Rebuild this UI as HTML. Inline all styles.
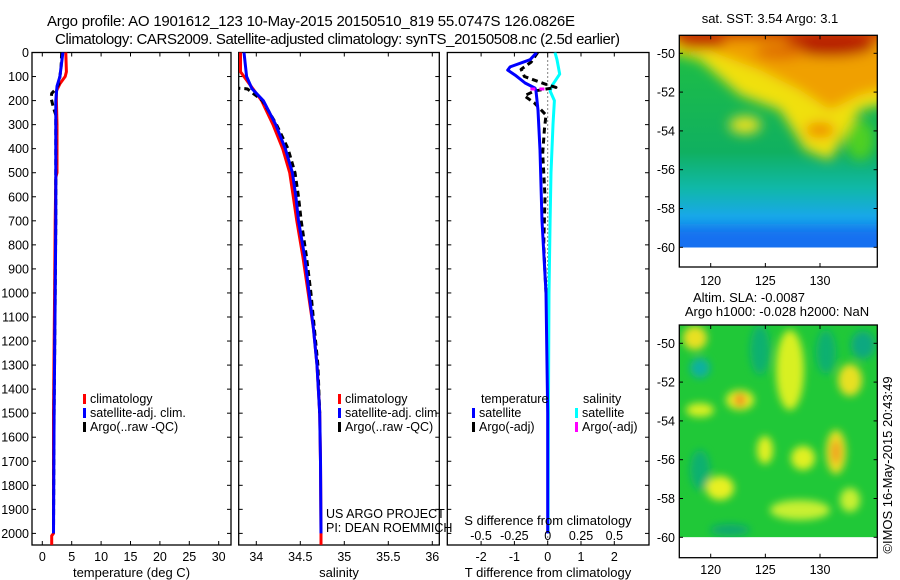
<!DOCTYPE html>
<html><head><meta charset="utf-8"><style>
html,body{margin:0;padding:0;background:#fff}
svg{display:block;font-family:"Liberation Sans",sans-serif}
text{fill:#000}
</style></head><body>
<svg id="fig" width="900" height="580" viewBox="0 0 900 580" xmlns="http://www.w3.org/2000/svg">
<defs>
<filter id="b6" x="-50%" y="-50%" width="200%" height="200%"><feGaussianBlur stdDeviation="6"/></filter>
<filter id="b4" x="-50%" y="-50%" width="200%" height="200%"><feGaussianBlur stdDeviation="4"/></filter>
<clipPath id="cm1"><rect x="679.3" y="35.3" width="198" height="212.2"/></clipPath>
<clipPath id="cm2"><rect x="679.3" y="325" width="198" height="212.3"/></clipPath>
<linearGradient id="sstg" x1="0" y1="0" x2="0" y2="1">
<stop offset="0" stop-color="#20c040"/><stop offset="0.55" stop-color="#10b060"/><stop offset="0.72" stop-color="#10b8a8"/><stop offset="0.85" stop-color="#18a8e8"/><stop offset="1" stop-color="#1080f0"/>
</linearGradient>
</defs>
<text x="47" y="26" font-size="15" textLength="528">Argo profile: AO 1901612_123 10-May-2015 20150510_819 55.0747S 126.0826E</text>
<text x="55" y="44" font-size="15" textLength="565">Climatology: CARS2009. Satellite-adjusted climatology: synTS_20150508.nc (2.5d earlier)</text>
<g id="panels"></g>

<g>
<g clip-path="url(#cm1)">
<rect x="679.3" y="35.3" width="198" height="212.2" fill="url(#sstg)"/>
<g filter="url(#b6)">
<polygon points="660,20 900,20 900,100 860,110 830,160 805,150 780,110 740,95 700,60 660,50" fill="#f0e010"/>
<polygon points="700,20 900,20 900,85 860,95 830,110 800,90 760,70 720,55 700,45" fill="#f0a000"/>
<rect x="660" y="20" width="240" height="20" fill="#d04000"/>
<ellipse cx="700" cy="42" rx="25" ry="8" fill="#c03000"/>
<ellipse cx="830" cy="45" rx="45" ry="12" fill="#b82000"/>
<ellipse cx="780" cy="52" rx="25" ry="8" fill="#e07000"/>
<ellipse cx="820" cy="130" rx="15" ry="8" fill="#f09000"/>
<ellipse cx="745" cy="125" rx="16" ry="9" fill="#e8e020"/>
<ellipse cx="860" cy="140" rx="14" ry="20" fill="#50d020"/>
<rect x="660" y="228" width="240" height="30" fill="#1870f0"/>
</g>
</g>
<rect x="679.3" y="35.3" width="198" height="231.7" fill="none" stroke="#000" stroke-width="1.3"/>
</g>
<text x="770" y="23" font-size="13" text-anchor="middle">sat. SST: 3.54 Argo: 3.1</text>

<g>
<g clip-path="url(#cm2)">
<rect x="679.3" y="325" width="198" height="212.3" fill="#20c838"/>
<g filter="url(#b4)">
<ellipse cx="695" cy="338" rx="12" ry="12" fill="#e8e020"/>
<ellipse cx="700" cy="368" rx="10" ry="10" fill="#10b0a0"/>
<ellipse cx="740" cy="400" rx="14" ry="10" fill="#e8f020"/>
<ellipse cx="740" cy="400" rx="6" ry="7" fill="#f09020"/>
<ellipse cx="700" cy="410" rx="14" ry="7" fill="#d8f020"/>
<ellipse cx="790" cy="370" rx="14" ry="40" fill="#d8f020"/>
<ellipse cx="850" cy="380" rx="12" ry="16" fill="#e8e020"/>
<ellipse cx="863" cy="345" rx="12" ry="14" fill="#10a880"/>
<ellipse cx="826" cy="352" rx="10" ry="22" fill="#10b070"/>
<ellipse cx="760" cy="350" rx="10" ry="25" fill="#10b070"/>
<ellipse cx="836" cy="452" rx="10" ry="22" fill="#e8e020"/>
<ellipse cx="836" cy="452" rx="5" ry="12" fill="#f0a020"/>
<ellipse cx="765" cy="450" rx="8" ry="14" fill="#e0f020"/>
<ellipse cx="803" cy="458" rx="12" ry="12" fill="#e0f020"/>
<ellipse cx="720" cy="488" rx="14" ry="12" fill="#e8f020"/>
<ellipse cx="800" cy="510" rx="30" ry="10" fill="#c8f030"/>
<ellipse cx="700" cy="470" rx="10" ry="20" fill="#10b070"/>
<ellipse cx="850" cy="500" rx="10" ry="12" fill="#c8f030"/>
<ellipse cx="730" cy="530" rx="20" ry="6" fill="#10a870"/>
</g>
</g>
<rect x="679.3" y="325" width="198" height="232.7" fill="none" stroke="#000" stroke-width="1.3"/>
</g>
<text x="749" y="302" font-size="13" text-anchor="middle">Altim. SLA: -0.0087</text>
<text x="777" y="316" font-size="13" text-anchor="middle">Argo h1000: -0.028 h2000: NaN</text>
<text transform="translate(892,465) rotate(-90)" font-size="13" text-anchor="middle">©IMOS 16-May-2015 20:43:49</text>
</svg>
<script>
const depthTicks=[0,100,200,300,400,500,600,700,800,900,1000,1100,1200,1300,1400,1500,1600,1700,1800,1900,2000];
const tempTicks=[0,5,10,15,20,25,30];
const salTicks=[34,34.5,35,35.5,36];
const salTickLabels=["34","34.5","35","35.5","36"];
const tdiffTicks=[-2,-1,0,1,2];
const sdiffTicks=[-0.5,-0.25,0,0.25,0.5];
const sdiffTickLabels=["-0.5","-0.25","0","0.25","0.5"];
const latTicks=[-50,-52,-54,-56,-58,-60];
const lonTicks=[120,125,130];

const tClimDepth=[0,80,100,130,160,200,300,500,520,700,1000,1500,2000,2010,2048];
const tClim=[4.0,4.1,3.9,3.0,2.4,2.4,2.5,2.5,2.3,2.2,2.1,1.9,1.9,1.6,1.6];
const tSatDepth=[0,60,100,140,200,400,700,1000,1500,2000];
const tSat=[3.5,3.2,3.0,2.5,2.3,2.3,2.3,2.2,2.0,1.9];
const tArgoDepth=[0,60,100,130,150,170,190,230,260,400,700,1000,1500,2000];
const tArgo=[3.3,3.2,3.0,2.8,2.4,1.6,1.5,1.9,2.3,2.3,2.3,2.2,2.0,1.9];

const sClimDepth=[0,80,120,150,200,300,400,500,600,700,850,1000,1150,1300,1500,1700,2000,2048];
const sClim=[33.82,33.82,33.9,33.96,34.06,34.19,34.3,34.38,34.42,34.46,34.53,34.59,34.65,34.69,34.72,34.73,34.735,34.735];
const sSatDepth=[0,100,150,200,300,400,500,600,700,850,1000,1150,1300,1500,1700,2000];
const sSat=[33.86,33.89,33.95,34.08,34.22,34.33,34.41,34.45,34.48,34.55,34.6,34.65,34.69,34.72,34.73,34.735];
const sArgoDepth=[148,150,152,200,300,400,500,600,700,850,1000,1150,1300,1500];
const sArgo=[33.75,33.87,33.9,34.07,34.23,34.36,34.44,34.48,34.51,34.57,34.62,34.66,34.7,34.72];

const dTDepth=[0,30,60,73,94,127,148,160,240,406,700,1000,1500,2000];
const dTSat=[-0.33,-0.53,-1.13,-1.2,-0.98,-0.68,-0.38,-0.35,-0.29,-0.23,-0.17,-0.05,0,0];
const dSDepth=[0,30,90,140,160,200,300,500,700,1000,1500,2000];
const dSSat=[0.055,0.07,0.09,0.03,0.018,0.05,0.04,0.025,0.018,0.01,0.005,0.003];
const dTArgoDepth=[0,40,70,100,130,145,160,180,210,260,320,420,600,800,1000];
const dTArgo=[-0.3,-0.5,-0.8,-0.7,-0.1,0.25,-0.4,-0.7,-0.4,-0.05,-0.1,-0.15,-0.08,-0.12,-0.05];
const dSArgoDepth=[152,152];
const dSArgo=[-0.13,-0.02];

const Y0=52.5, YB=545, yD=d=>Y0+d*0.24045;
const xT=t=>42.3+t*5.88;
const xS=s=>256.3+(s-34)*88;
const xDT=t=>547.7+t*33.3;
const xDS=s=>547.7+s*133.3;
const NS='http://www.w3.org/2000/svg';
const G=document.getElementById('panels');
function mk(tag,attrs,parent){const e=document.createElementNS(NS,tag);for(const k in attrs)e.setAttribute(k,attrs[k]);(parent||G).appendChild(e);return e;}
function txt(x,y,s,anchor,size,parent){const e=mk('text',{x:x,y:y,'font-size':size||12,'text-anchor':anchor||'start'},parent);e.textContent=s;return e;}

const panels=[{id:'temp',x0:32,x1:231},{id:'sal',x0:238.7,x1:439.3},{id:'diff',x0:447.3,x1:649}];
panels.forEach(p=>{
  const c=mk('clipPath',{id:'clip-'+p.id});
  mk('rect',{x:p.x0,y:Y0,width:p.x1-p.x0,height:YB-Y0},c);
  const g=mk('g',{});
  
  
  p.g=g;
  const fr=mk('rect',{x:p.x0,y:Y0,width:p.x1-p.x0,height:YB-Y0,fill:'none',stroke:'#000','stroke-width':1.3},g);
  
  
  depthTicks.forEach(d=>{
    mk('line',{x1:p.x0,x2:p.x0+4,y1:yD(d),y2:yD(d),stroke:'#000'},g);
    mk('line',{x1:p.x1,x2:p.x1-4,y1:yD(d),y2:yD(d),stroke:'#000'},g);
  });
  p.lines=mk('g',{'clip-path':'url(#clip-'+p.id+')'},g);
});
depthTicks.forEach(d=>{
  const t=txt(29,yD(d)+4.5,String(d),'end',12.5);
  
  
});
function xticks(p,vals,fx,labels,ly){
  vals.forEach((v,i)=>{
    const x=fx(v);
    mk('line',{x1:x,x2:x,y1:YB,y2:YB-4,stroke:'#000'},p.g);
    mk('line',{x1:x,x2:x,y1:Y0,y2:Y0+4,stroke:'#000'},p.g);
    if(labels){const t=txt(x,ly,labels[i],'middle',12.5);
      
      }
  });
}
xticks(panels[0],tempTicks,xT,tempTicks.map(String),561);
xticks(panels[1],salTicks,xS,salTickLabels,561);
xticks(panels[2],tdiffTicks,xDT,tdiffTicks.map(String),561);
sdiffTicks.forEach((v,i)=>{const t=txt(xDS(v),540,sdiffTickLabels[i],'middle',12.5);
  
  });
[['temperature (deg C)',131.5,'x-axis-title-temperature'],['salinity',339,'x-axis-title-salinity'],['T difference from climatology',548,'x-axis-title-tdiff']].forEach(a=>{
  const t=txt(a[1],577,a[0],'middle',13);
  
  
});
{const t=txt(548,525,'S difference from climatology','middle',13);

}
mk('line',{x1:xDT(0),x2:xDT(0),y1:Y0,y2:YB,stroke:'#000','stroke-dasharray':'1,3'},panels[2].lines);

function series(p,depths,vals,fx,color,dash,name){
  const pts=depths.map((d,i)=>fx(vals[i]).toFixed(1)+','+yD(d).toFixed(1)).join(' ');
  const l=mk('polyline',{points:pts,fill:'none',stroke:color,'stroke-width':3,'stroke-linejoin':'round'},p.lines);
  if(dash)l.setAttribute('stroke-dasharray',dash);
  
  
}
series(panels[0],tClimDepth,tClim,xT,'#ff0000',null,'temp-climatology-line');
series(panels[0],tArgoDepth,tArgo,xT,'#000',"6,4",'temp-argo-line');
series(panels[0],tSatDepth,tSat,xT,'#0000ff',null,'temp-satellite-line');
series(panels[1],sClimDepth,sClim,xS,'#ff0000',null,'sal-climatology-line');
series(panels[1],sArgoDepth,sArgo,xS,'#000',"6,4",'sal-argo-line');
series(panels[1],sSatDepth,sSat,xS,'#0000ff',null,'sal-satellite-line');
series(panels[2],dSDepth,dSSat,xDS,'#00ffff',null,'sdiff-satellite-line');
series(panels[2],dTArgoDepth,dTArgo,xDT,'#000',"6,4",'tdiff-argo-line');
series(panels[2],dTDepth,dTSat,xDT,'#0000ff',null,'tdiff-satellite-line');
series(panels[2],dSArgoDepth,dSArgo,xDS,'#ff00ff',"5,4",'sdiff-argo-line');

function legend(x,y,color,label,name){
  const r=mk('rect',{x:x,y:y-9,width:3,height:10,fill:color});
  
  
  const t=txt(x+7,y,label,'start',12.5);
  
  
}
[[83,'temp'],[338,'sal']].forEach(a=>{
  legend(a[0],403,'#ff0000','climatology','legend-'+a[1]+'-climatology');
  legend(a[0],417,'#0000ff','satellite-adj. clim.','legend-'+a[1]+'-satellite');
  legend(a[0],431,'#000','Argo(..raw -QC)','legend-'+a[1]+'-argo');
});
{const t=txt(481,403,'temperature','start',12.5);}
{const t=txt(583,403,'salinity','start',12.5);}
legend(472,417,'#0000ff','satellite','legend-tdiff-satellite');
legend(472,431,'#000','Argo(-adj)','legend-tdiff-argo');
legend(575,417,'#00ffff','satellite','legend-sdiff-satellite');
legend(575,431,'#ff00ff','Argo(-adj)','legend-sdiff-argo');
{const t=txt(326,518,'US ARGO PROJECT','start',12.5);}
{const t=txt(326,532,'PI: DEAN ROEMMICH','start',12.5);}

const fig=document.getElementById('fig');
const lonX=l=>710.7+(l-120)*10.93;
[[35.3,267,53.3,281,'sst'],[325,557.7,343.3,570,'sla']].forEach(m=>{
  const g=mk('g',{},fig);
  
  
  latTicks.forEach(l=>{
    const y=m[2]+(-50-l)*19.4;
    mk('line',{x1:679.3,x2:683,y1:y,y2:y,stroke:'#000'},g);
    mk('line',{x1:877.3,x2:873.6,y1:y,y2:y,stroke:'#000'},g);
    const t=txt(675,y+4.5,String(l),'end',12.5,g);
    
    
  });
  lonTicks.forEach(l=>{
    const x=lonX(l);
    mk('line',{x1:x,x2:x,y1:m[1],y2:m[1]-4,stroke:'#000'},g);
    mk('line',{x1:x,x2:x,y1:m[0],y2:m[0]+4,stroke:'#000'},g);
    const t=txt(x,m[3]+4,String(l),'middle',12.5,g);
    
    
  });
});
</script>
</body></html>
